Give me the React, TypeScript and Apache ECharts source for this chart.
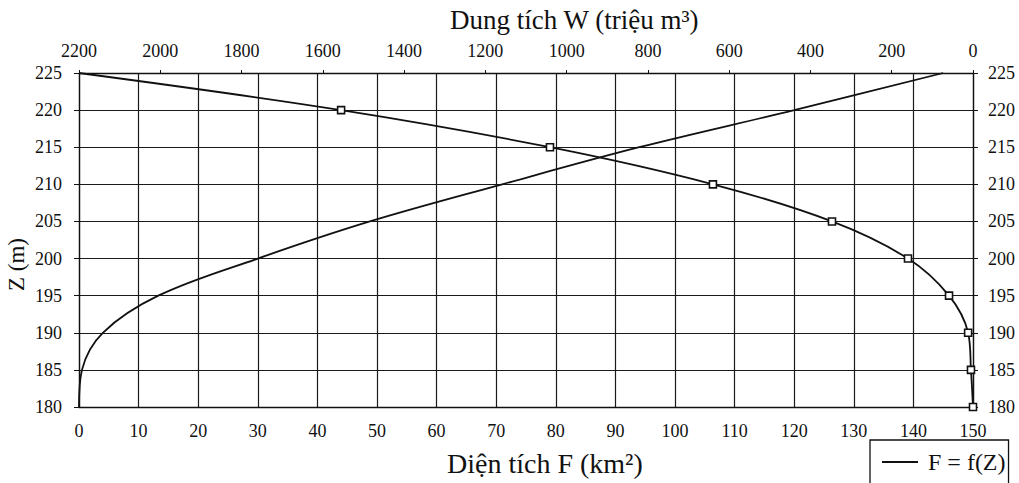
import React, { useEffect, useRef } from "react";
import * as echarts from "echarts";

// Water levels Z (m) for the storage curve W = f(Z)
const levelsZ = [180, 185, 190, 195, 200, 205, 210, 215, 220, 225];
// Storage W (million m3)
const volumeW = [0, 5, 12, 59, 160, 347, 640, 1041, 1555, 2200];

// Water levels Z (m) for the area curve F = f(Z)
const areaZ = [180, 185, 190, 195, 200, 205, 210, 215, 220, 225];
// Surface area F (km2)
const areaF = [0, 0.5, 4.0, 13.3, 30, 48.8, 71, 94, 120, 145];

const zTicks = { min: 180, max: 225, interval: 5 };
const fTicks = { min: 0, max: 150, interval: 10 };
const wTicks = { min: 0, max: 2200, interval: 200 };

const topTitle = "Dung tích W (triệu m³)";
const bottomTitle = "Diện tích F (km²)";
const leftTitle = "Z (m)";
const legendName = "F = f(Z)";

const FONT = "'Liberation Serif', 'Times New Roman', serif";
const INK = "#111";

export default function App() {
  const ref = useRef<HTMLDivElement>(null);

  useEffect(() => {
    if (!ref.current) return;
    const chart = echarts.init(ref.current, null, { renderer: "svg" });
    const label = {
      fontFamily: FONT,
      fontSize: 18,
      color: INK,
      formatter: (v: number) => String(v),
    };
    const axisLine = { show: true, lineStyle: { color: INK, width: 1.3 } };

    const wData = levelsZ.map((z, i) =>
      i === levelsZ.length - 1
        ? { value: [volumeW[i], z], symbol: "none" }
        : { value: [volumeW[i], z] }
    );
    const fData = areaZ.map((z, i) => [areaF[i], z]);

    chart.setOption({
      animation: false,
      backgroundColor: "#fff",
      grid: { left: 79, right: 46, top: 73, bottom: 76, containLabel: false },
      xAxis: [
        {
          type: "value",
          position: "bottom",
          min: fTicks.min,
          max: fTicks.max,
          interval: fTicks.interval,
          axisLine,
          axisTick: { show: false },
          axisLabel: { ...label, margin: 15 },
          splitLine: { show: true, lineStyle: { color: "#1a1a1a", width: 1.2 } },
        },
        {
          type: "value",
          position: "top",
          inverse: true,
          min: wTicks.min,
          max: wTicks.max,
          interval: wTicks.interval,
          axisLine,
          axisTick: { show: true, length: 3, lineStyle: { color: INK } },
          axisLabel: { ...label, margin: 13 },
          splitLine: { show: false },
        },
      ],
      yAxis: [
        {
          type: "value",
          position: "left",
          min: zTicks.min,
          max: zTicks.max,
          interval: zTicks.interval,
          axisLine,
          axisTick: { show: true, length: 5, lineStyle: { color: INK } },
          axisLabel: { ...label, margin: 17 },
          splitLine: { show: true, lineStyle: { color: "#1a1a1a", width: 1.2 } },
        },
        {
          type: "value",
          position: "right",
          min: zTicks.min,
          max: zTicks.max,
          interval: zTicks.interval,
          axisLine,
          axisTick: { show: true, length: 5, lineStyle: { color: INK } },
          axisLabel: { ...label, margin: 15 },
          splitLine: { show: false },
        },
      ],
      legend: {
        data: [{ name: legendName, icon: "rect" }],
        left: 870,
        top: 440,
        orient: "horizontal",
        backgroundColor: "#fff",
        borderColor: INK,
        borderWidth: 1.3,
        padding: [10, 3, 22, 12],
        itemWidth: 36,
        itemHeight: 2,
        itemGap: 2,
        itemStyle: { color: INK, borderWidth: 0 },
        textStyle: { fontFamily: FONT, fontSize: 24, color: INK, padding: [0, 0, 0, 5] },
      },
      series: [
        {
          name: "W = f(Z)",
          type: "line",
          xAxisIndex: 1,
          yAxisIndex: 0,
          data: wData,
          smooth: 0.35,
          symbol: "rect",
          symbolSize: 7,
          showAllSymbol: true,
          lineStyle: { color: INK, width: 1.8 },
          itemStyle: { color: "#fff", borderColor: INK, borderWidth: 1.6 },
          z: 3,
        },
        {
          name: legendName,
          type: "line",
          xAxisIndex: 0,
          yAxisIndex: 0,
          data: fData,
          smooth: 0.35,
          symbol: "none",
          lineStyle: { color: INK, width: 1.8 },
          itemStyle: { color: INK },
          z: 2,
        },
      ],
      graphic: [
        {
          type: "text",
          left: 450,
          top: 6,
          style: { text: topTitle, fontFamily: FONT, fontSize: 27, fill: INK },
        },
        {
          type: "text",
          left: 447,
          top: 449,
          style: { text: bottomTitle, fontFamily: FONT, fontSize: 28, fill: INK },
        },
        {
          type: "text",
          x: 5,
          y: 291,
          rotation: Math.PI / 2,
          style: { text: leftTitle, fontFamily: FONT, fontSize: 23, fill: INK },
        },
      ],
    });
    return () => chart.dispose();
  }, []);

  return (
    <div
      ref={ref}
      style={{ position: "fixed", left: 0, top: 0, width: 1019, height: 483, background: "#fff" }}
    />
  );
}
